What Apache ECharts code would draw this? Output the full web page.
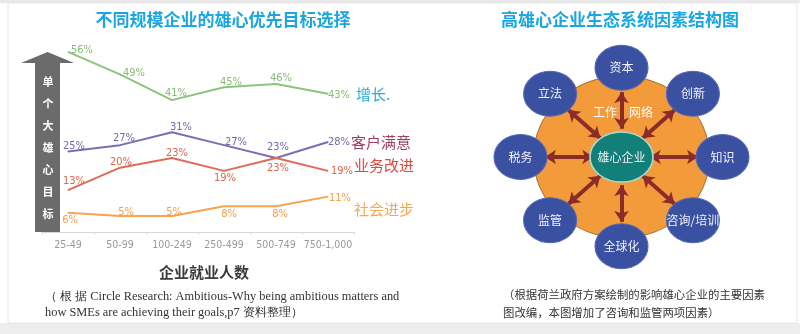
<!DOCTYPE html>
<html><head><meta charset="utf-8">
<script src="https://cdn.jsdelivr.net/npm/echarts@6/dist/echarts.min.js"></script>
<style>html,body{margin:0;padding:0;background:#fff}#c{width:800px;height:334px}</style>
</head><body><div id="c"></div>
<script>
// ---- Data: left chart ----
const sizeBands = ['25-49', '50-99', '100-249', '250-499', '500-749', '750-1,000'];
const growth = [56, 49, 41, 45, 46, 43];
const customerSat = [25, 27, 31, 27, 23, 28];
const bizImprove = [13, 20, 23, 19, 23, 19];
const socialProgress = [6, 5, 5, 8, 8, 11];
const seriesNames = ['增长.', '客户满意', '业务改进', '社会进步'];
const xAxisTitle = '企业就业人数';
const yArrowText = '单个大雄心目标';
const leftTitle = '不同规模企业的雄心优先目标选择';
const leftNote1 = '（ 根 据 Circle Research: Ambitious-Why being ambitious matters and';
const leftNote2 = 'how SMEs are achieving their goals,p7 资料整理）';

// ---- Data: right diagram ----
const rightTitle = '高雄心企业生态系统因素结构图';
const coreNode = '雄心企业';
const factors = ['资本', '创新', '知识', '咨询/培训', '全球化', '监管', '税务', '立法'];
const factorAngles = [90, 45, 0, -45, -90, -135, 180, 135];
const networkWords = ['工作', '网络'];
const rightNote1 = '（根据荷兰政府方案绘制的影响雄心企业的主要因素';
const rightNote2 = '图改编，本图增加了咨询和监管两项因素）';

// ---- Styles ----
const lineColors = ['#8DC47B', '#7A6DB3', '#E06B55', '#F6A450'];
const labelColors = ['#86BD74', '#7767AE', '#DC6650', '#F2A04C'];
const nameColors = ['#2AA9DF', '#A0405C', '#E2463C', '#F5A84E'];
const labelOffsets = [
  [[14, -2], [14, -1], [4, -7], [7, -5], [5, -6], [11, 1]],
  [[6, -5], [4, -7], [9, -5], [12, -3], [2, -11], [11, 0]],
  [[6, -9], [1, -6], [5, -5], [1, 7], [2, 10], [14, 0]],
  [[2, 7], [6, -4], [2, -4], [5, 8], [4, 8], [12, 2]]
];
const nameOffsets = [[28, 1], [23, 0], [26, -6], [26, 13]];
const condensed = '"DejaVu Sans Condensed", "DejaVu Sans", sans-serif';
const cjk = '"Noto Sans CJK SC", sans-serif';

const allValues = [growth, customerSat, bizImprove, socialProgress];
const lineSeries = allValues.map((vals, s) => ({
  type: 'line',
  name: seriesNames[s],
  xAxisIndex: 0, yAxisIndex: 0,
  symbol: 'circle', symbolSize: 1,
  itemStyle: { color: lineColors[s] },
  lineStyle: { color: lineColors[s], width: 2 },
  data: vals.map((v, i) => ({
    value: v,
    label: { offset: labelOffsets[s][i] }
  })),
  label: {
    show: true, position: 'inside',
    formatter: p => p.value + '%',
    color: labelColors[s], fontSize: 11, fontFamily: condensed
  },
  endLabel: {
    show: true, position: 'right', distance: 0, align: 'left',
    offset: nameOffsets[s],
    formatter: () => seriesNames[s],
    color: nameColors[s], fontSize: 15, fontFamily: cjk
  },
  animation: false, silent: true, z: 3
}));

const nodes = [{
  name: coreNode, value: [0, 0], symbolSize: [63, 50],
  itemStyle: { color: '#137F79', borderColor: '#A8DCD3', borderWidth: 1.5 }
}].concat(factors.map((f, i) => ({
  name: f,
  value: [Math.cos(factorAngles[i] * Math.PI / 180), Math.sin(factorAngles[i] * Math.PI / 180)],
  symbolSize: [53, 45],
  itemStyle: { color: '#3A51A2', borderColor: '#5468B0', borderWidth: 1 }
})));
const links = factors.map(f => ({ source: coreNode, target: f }));

const option = {
  backgroundColor: '#fff',
  animation: false,
  grid: [
    { left: 42, right: 446, top: 39, bottom: 102 },
    { left: 470, right: 27, top: 23, bottom: 43 }
  ],
  xAxis: [
    {
      type: 'category', gridIndex: 0, data: sizeBands, boundaryGap: true,
      axisLine: { lineStyle: { color: '#D6D6D6', width: 1 } },
      axisTick: { show: true, length: 3, lineStyle: { color: '#DDDDDD' } },
      axisLabel: { color: '#9A9A9A', fontSize: 10.5, fontFamily: condensed, margin: 8, interval: 0, hideOverlap: false },
      splitLine: { show: false }
    },
    { type: 'value', gridIndex: 1, min: -1.5, max: 1.5, show: false }
  ],
  yAxis: [
    { type: 'value', gridIndex: 0, min: 0, max: 60, show: false },
    { type: 'value', gridIndex: 1, min: -1.5, max: 1.5, show: false }
  ],
  series: lineSeries.concat([
    {
      type: 'scatter', xAxisIndex: 1, yAxisIndex: 1,
      data: [[0, 0]], symbol: 'circle', symbolSize: [176, 162],
      itemStyle: { color: '#F39A3B', borderColor: '#A4743E', borderWidth: 1, opacity: 1 },
      silent: true, z: 1
    },
    {
      type: 'graph', coordinateSystem: 'cartesian2d', xAxisIndex: 1, yAxisIndex: 1,
      layout: 'none', symbol: 'circle',
      data: nodes, links: links,
      edgeSymbol: ['arrow', 'arrow'], edgeSymbolSize: 11,
      lineStyle: { color: '#8A2C27', width: 4, opacity: 1, curveness: 0 },
      label: { show: true, position: 'inside', color: '#F2F2F8', fontSize: 12, fontFamily: cjk },
      silent: true, z: 2
    }
  ]),
  graphic: [
    { type: 'rect', shape: { x: 0, y: 0, width: 800, height: 3 }, style: { fill: '#E9E9E9' }, silent: true, z: -10 },
    { type: 'rect', shape: { x: 0, y: 323, width: 800, height: 11 }, style: { fill: '#EDEDED' }, silent: true, z: -10 },
    { type: 'rect', shape: { x: 8, y: 3, width: 789, height: 320 },
      style: { fill: '#FFFFFF', stroke: '#E6E6E6', lineWidth: 1 }, silent: true, z: -9 },
    // titles
    { type: 'text', x: 223, y: 20, silent: true,
      style: { text: leftTitle, fill: '#1AA6E2', fontSize: 17, fontWeight: 'bold', fontFamily: cjk, align: 'center', verticalAlign: 'middle' } },
    { type: 'text', x: 620, y: 20, silent: true,
      style: { text: rightTitle, fill: '#1AA6E2', fontSize: 17, fontWeight: 'bold', fontFamily: cjk, align: 'center', verticalAlign: 'middle' } },
    // gray vertical arrow
    { type: 'polygon', silent: true, z: 10,
      shape: { points: [[35, 232], [35, 63], [21, 63], [47.5, 52], [74, 63], [60, 63], [60, 232]] },
      style: { fill: '#6B6B6B' } },
    { type: 'text', x: 48, y: 71, silent: true, z: 11,
      style: { text: yArrowText.split('').join('\n'), fill: '#FFFFFF', fontSize: 11, fontWeight: 'bold', fontFamily: cjk, lineHeight: 22, align: 'center', verticalAlign: 'top' } },
    // x axis title
    { type: 'text', x: 204, y: 272, silent: true,
      style: { text: xAxisTitle, fill: '#3C3C3C', fontSize: 15, fontWeight: 'bold', fontFamily: cjk, align: 'center', verticalAlign: 'middle' } },
    // notes
    { type: 'text', x: 45, y: 297, silent: true,
      style: { text: leftNote1, fill: '#333', fontSize: 12.4, fontFamily: '"Liberation Serif", serif', align: 'left', verticalAlign: 'middle' } },
    { type: 'text', x: 45, y: 313, silent: true,
      style: { text: leftNote2, fill: '#333', fontSize: 12.4, fontFamily: '"Liberation Serif", serif', align: 'left', verticalAlign: 'middle' } },
    { type: 'text', x: 503, y: 295, silent: true,
      style: { text: rightNote1, fill: '#333', fontSize: 11.4, fontFamily: cjk, align: 'left', verticalAlign: 'middle' } },
    { type: 'text', x: 503, y: 313, silent: true,
      style: { text: rightNote2, fill: '#333', fontSize: 11.4, fontFamily: cjk, align: 'left', verticalAlign: 'middle' } },
    // network words
    { type: 'text', x: 605, y: 112, silent: true, z: 20,
      style: { text: networkWords[0], fill: '#FFFFFF', fontSize: 12, fontFamily: cjk, align: 'center', verticalAlign: 'middle' } },
    { type: 'text', x: 641, y: 112, silent: true, z: 20,
      style: { text: networkWords[1], fill: '#FFFFFF', fontSize: 12, fontFamily: cjk, align: 'center', verticalAlign: 'middle' } }
  ]
};
const chart = echarts.init(document.getElementById('c'), null, { renderer: 'canvas' });
chart.setOption(option);
</script></body></html>
